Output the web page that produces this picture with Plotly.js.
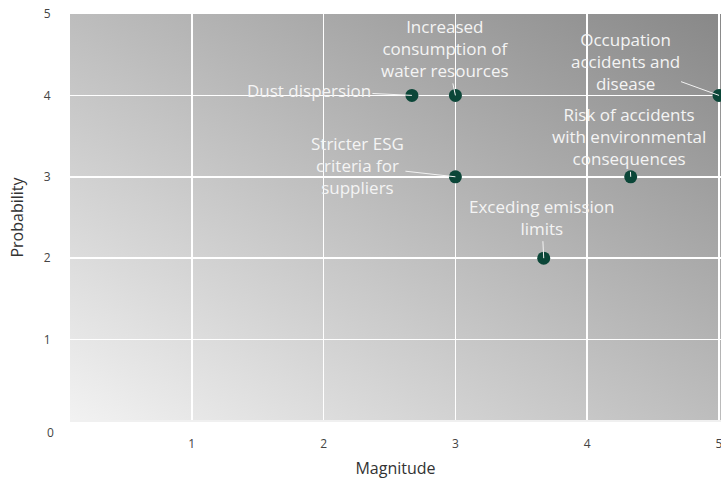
<!DOCTYPE html>
<html>
<head>
<meta charset="utf-8">
<script src="https://cdn.plot.ly/plotly-3.0.1.min.js"></script>
<style>
  html, body { margin: 0; padding: 0; background: #fff; }
  #chart { width: 721px; height: 479px; }
</style>
</head>
<body>
<div id="chart"></div>
<script>
// Risk matrix: each risk placed by magnitude (x) and probability (y)
const risks = [
  "Dust dispersion",
  "Increased<br>consumption of<br>water resources",
  "Occupation<br>accidents and<br>disease",
  "Risk of accidents<br>with environmental<br>consequences",
  "Stricter ESG<br>criteria for<br>suppliers",
  "Exceding emission<br>limits"
];
const magnitude   = [2.67, 3, 5, 4.33, 3, 3.67];
const probability = [4, 4, 4, 3, 3, 2];

// label offsets (pixels) from each point to its text
const labelDx = [-103, -10, -94, -2, -98, -2];
const labelDy = [-5, -47, -34, -40, -11, -41];

const xTicks = [1, 2, 3, 4, 5];
const yTicks = [1, 2, 3, 4, 5];
const yZeroLabel = "0";

const FONT = "'Open Sans', Lato, sans-serif";

const gradientSvg =
  '<svg xmlns="http://www.w3.org/2000/svg" width="100" height="100" preserveAspectRatio="none">' +
  '<defs><linearGradient id="g" x1="0" y1="1" x2="1" y2="0">' +
  '<stop offset="0" stop-color="#f2f2f2"/><stop offset="1" stop-color="#888888"/>' +
  '</linearGradient></defs><rect width="100" height="100" fill="url(#g)"/></svg>';

const trace = {
  type: "scatter",
  mode: "markers",
  x: magnitude,
  y: probability,
  marker: { color: "#0b4638", size: 13 },
  hoverinfo: "skip",
  cliponaxis: true
};

const annotations = risks.map((t, i) => ({
  x: magnitude[i], y: probability[i], xref: "x", yref: "y",
  text: t,
  showarrow: true, arrowhead: 0, arrowwidth: 1, arrowcolor: "#f2f2f2",
  ax: labelDx[i], ay: labelDy[i],
  font: { family: FONT, size: 17, color: "#f4f4f4" },
  align: "center"
}));

annotations.push({
  x: 0, y: 0, xref: "paper", yref: "y",
  text: yZeroLabel, showarrow: false,
  xanchor: "right", xshift: -14, yshift: -11,
  font: { family: FONT, size: 12, color: "#444" }
});

const layout = {
  width: 721, height: 479,
  margin: { l: 70, r: 0, t: 14, b: 58 },
  paper_bgcolor: "#ffffff",
  plot_bgcolor: "rgba(0,0,0,0)",
  showlegend: false,
  font: { family: FONT, color: "#444" },
  xaxis: {
    range: [0.076, 5.015],
    tickvals: xTicks, ticktext: xTicks.map(String),
    ticks: "outside", ticklen: 12, tickcolor: "rgba(0,0,0,0)",
    ticklabeloverflow: "allow",
    tickfont: { size: 12, color: "#444" },
    showgrid: true, gridcolor: "#ffffff", gridwidth: 1.5,
    zeroline: false, showline: false,
    title: { text: "Magnitude", font: { size: 16, color: "#333" }, standoff: 12 }
  },
  yaxis: {
    range: [0, 5],
    tickvals: yTicks, ticktext: yTicks.map(String),
    ticks: "outside", ticklen: 16, tickcolor: "rgba(0,0,0,0)",
    ticklabeloverflow: "allow",
    tickfont: { size: 12, color: "#444" },
    showgrid: true, gridcolor: "#ffffff", gridwidth: 1.5,
    zeroline: true, zerolinecolor: "#f0f0f0", zerolinewidth: 1.5, showline: false,
    title: { text: "Probability", font: { size: 16, color: "#333" }, standoff: 16 }
  },
  images: [{
    source: "data:image/svg+xml;charset=utf-8," + encodeURIComponent(gradientSvg),
    xref: "paper", yref: "paper", x: 0, y: 1, sizex: 1, sizey: 1,
    sizing: "stretch", xanchor: "left", yanchor: "top", layer: "below"
  }],
  annotations: annotations
};

Plotly.newPlot("chart", [trace], layout, { displayModeBar: false, staticPlot: true });
</script>
</body>
</html>
